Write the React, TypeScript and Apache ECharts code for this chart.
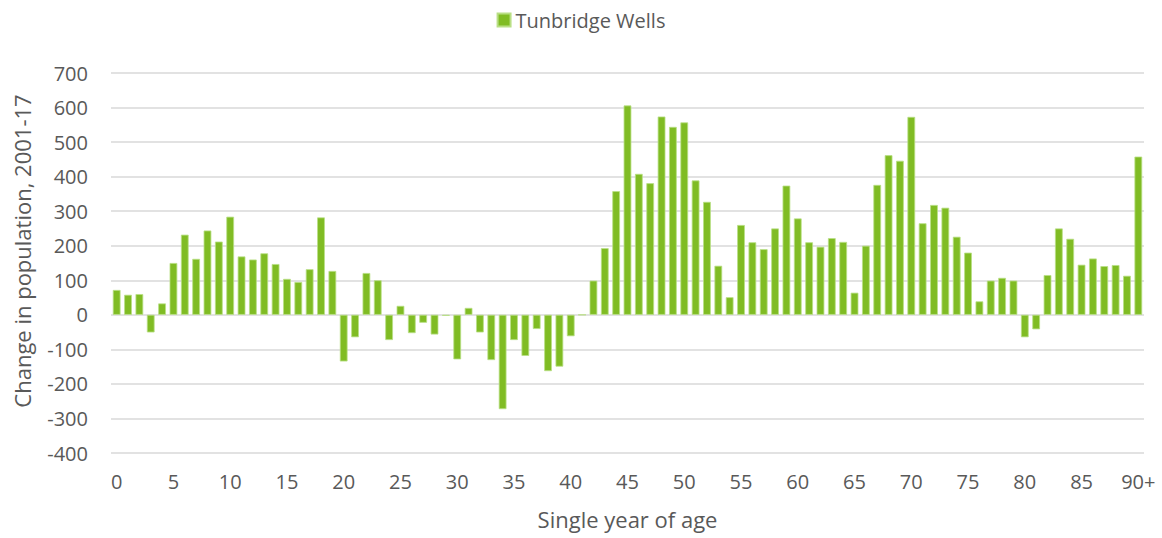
import React, { useEffect, useRef } from "react";
import * as echarts from "echarts";

const ages: string[] = [];
for (let i = 0; i < 90; i++) ages.push(String(i));
ages.push("90+");

const seriesName = "Tunbridge Wells";

const changeValues = [
  72, 58, 60, -51, 33, 150, 232, 162, 244, 212,
  284, 169, 160, 178, 147, 104, 95, 132, 282, 127,
  -135, -65, 121, 100, -73, 26, -53, -23, -57, -3,
  -129, 20, -51, -131, -273, -73, -119, -41, -163, -150,
  -62, 0, 99, 193, 358, 606, 408, 381, 574, 544,
  557, 389, 327, 142, 51, 260, 210, 190, 250, 374,
  279, 210, 197, 222, 211, 64, 200, 376, 462, 446,
  573, 265, 318, 310, 226, 180, 39, 99, 107, 99,
  -65, -42, 115, 250, 220, 145, 163, 141, 144, 113,
  458,
];

const yMin = -400;
const yMax = 700;
const yStep = 100;

const FONT = "'Open Sans', sans-serif";
const TEXT = "#595959";

export default function App() {
  const ref = useRef<HTMLDivElement>(null);
  useEffect(() => {
    if (!ref.current) return;
    const chart = echarts.init(ref.current, undefined, { renderer: "svg" });
    chart.setOption({
      animation: false,
      backgroundColor: "#ffffff",
      textStyle: { fontFamily: FONT },
      legend: {
        top: 5,
        left: "center",
        itemWidth: 13,
        itemHeight: 13,
        itemGap: 5,
        icon: "rect",
        textStyle: { fontSize: 20, color: TEXT, fontFamily: FONT },
        data: [seriesName],
      },
      grid: { left: 111, right: 18, top: 73, bottom: 85, containLabel: false },
      xAxis: {
        type: "category",
        data: ages,
        name: "Single year of age",
        nameLocation: "middle",
        nameGap: 55,
        nameTextStyle: { fontSize: 22, color: TEXT, fontFamily: FONT },
        axisLine: { show: false, onZero: false },
        axisTick: { show: false },
        axisLabel: {
          interval: 4,
          fontSize: 20,
          color: TEXT,
          margin: 18,
          fontFamily: FONT,
        },
      },
      yAxis: {
        type: "value",
        min: yMin,
        max: yMax,
        interval: yStep,
        name: "Change in population, 2001-17",
        nameLocation: "middle",
        nameGap: 78,
        nameTextStyle: {
          fontSize: 22,
          color: TEXT,
          fontFamily: FONT,
          padding: [0, 0, 0, 24],
        },
        axisLine: { show: false },
        axisTick: { show: false },
        axisLabel: { fontSize: 20, color: TEXT, margin: 23, fontFamily: FONT },
        splitLine: { lineStyle: { color: "#d9d9d9", width: 1.5 } },
      },
      series: [
        {
          name: seriesName,
          type: "bar",
          data: changeValues,
          barCategoryGap: "32%",
          itemStyle: {
            color: "#80BC24",
            borderColor: "#b9df85",
            borderWidth: 0.8,
          },
        },
      ],
    });
    return () => chart.dispose();
  }, []);
  return (
    <div
      ref={ref}
      style={{ position: "fixed", left: 0, top: 0, width: 1162, height: 538 }}
    />
  );
}
